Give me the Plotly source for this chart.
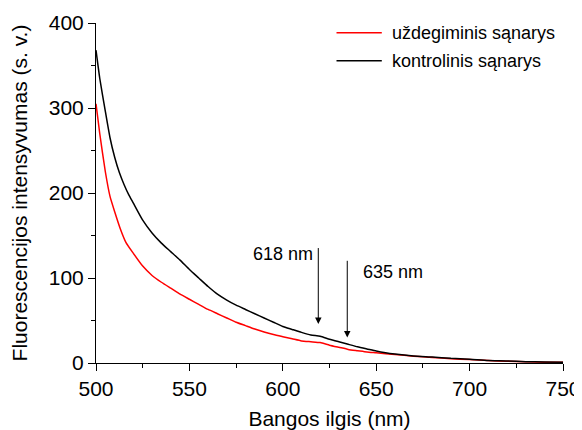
import plotly.graph_objects as go

# Wavelengths (nm) and intensities (a.u.)
nm_black = [500, 502, 505, 507.5, 510, 512.5, 515, 517.5, 520, 525, 530, 535, 540, 545, 550, 555, 560,
            565, 570, 575, 580, 585, 590, 595, 600, 605, 610, 615, 620, 625, 630, 635, 640,
            645, 650, 655, 660, 670, 680, 690, 700, 710, 720, 730, 740, 750]
control = [368, 335, 296, 265, 242, 224, 210, 198, 188, 168, 153, 141, 131, 121, 110, 100, 90,
           81, 74, 68, 63, 58, 53, 48, 43, 39.5, 36, 33, 31.5, 28, 25, 22, 19,
           16.5, 14, 12, 10.5, 8.3, 7, 5.5, 4.5, 3, 2.5, 1.5, 1.2, 1]

nm_red = [500, 502, 505, 507.5, 510, 513, 516, 520, 525, 530, 535, 540, 545, 550, 555, 560,
          565, 570, 575, 580, 585, 590, 595, 600, 605, 610, 615, 620, 625, 630, 635, 640,
          645, 650, 660, 670, 680, 690, 700, 710, 720, 730, 740, 750]
inflamed = [305, 270, 225, 196, 178, 158, 142, 129, 114, 103, 95, 88, 81, 75, 69, 63,
            58, 53, 48, 44, 40, 36.5, 33.5, 31, 28.5, 26, 25, 24, 21, 18.5, 16, 14.5,
            13, 12, 10, 8, 6.5, 5, 4, 3, 2, 1.5, 1, 0.8]

series_names = ["uždegiminis sąnarys", "kontrolinis sąnarys"]
series_colors = ["#ff0000", "#000000"]
x_ticks = [500, 550, 600, 650, 700, 750]
y_ticks = [0, 100, 200, 300, 400]

# Arrow annotations
arrow_nm = [619, 634.5]
arrow_tail = [137, 122]
arrow_head = [46, 30]
arrow_labels = ["618 nm", "635 nm"]
label_pos = [(617.5, 128, "right"), (642, 107, "left")]

font_family = "Liberation Sans, Arial, sans-serif"

fig = go.Figure()
fig.add_trace(go.Scatter(x=nm_red, y=inflamed, mode="lines", name=series_names[0],
                         line=dict(color=series_colors[0], width=1.5, shape="spline", smoothing=0.5),
                         showlegend=False))
fig.add_trace(go.Scatter(x=nm_black, y=control, mode="lines", name=series_names[1],
                         line=dict(color=series_colors[1], width=1.5, shape="spline", smoothing=0.5),
                         showlegend=False))

for i in range(2):
    fig.add_annotation(x=arrow_nm[i], y=arrow_head[i], ax=arrow_nm[i], ay=arrow_tail[i],
                       xref="x", yref="y", axref="x", ayref="y", text="",
                       showarrow=True, arrowhead=2, arrowsize=1.3, arrowwidth=1,
                       arrowcolor="black")
    lx, ly, anchor = label_pos[i]
    fig.add_annotation(x=lx, y=ly, xref="x", yref="y", text=arrow_labels[i],
                       showarrow=False, xanchor=anchor, yanchor="middle",
                       font=dict(size=18, color="black", family=font_family))

# Manual legend (paper coordinates)
legend_y = [0.971, 0.889]
for i in range(2):
    fig.add_shape(type="line", xref="paper", yref="paper", x0=0.515, x1=0.612,
                  y0=legend_y[i], y1=legend_y[i], line=dict(color=series_colors[i], width=1.5))
    fig.add_annotation(x=0.629, y=legend_y[i], xref="paper", yref="paper", text=series_names[i],
                       showarrow=False, xanchor="left", yanchor="middle",
                       font=dict(size=18, color="black", family=font_family))

axis_common = dict(showline=True, linecolor="black", linewidth=1, ticks="outside",
                   tickcolor="black", ticklen=7, tickwidth=1, showgrid=False,
                   zeroline=False, mirror=False, automargin=False,
                   ticklabeloverflow="allow",
                   tickfont=dict(size=21, color="black", family=font_family))

fig.update_xaxes(range=[500, 750], tickvals=x_ticks,
                 title=dict(text="Bangos ilgis (nm)", standoff=14,
                            font=dict(size=21, color="black", family=font_family)),
                 minor=dict(ticks="outside", dtick=25, ticklen=4, tickcolor="black", tickwidth=1),
                 **axis_common)
fig.update_yaxes(range=[0, 400], tickvals=y_ticks,
                 title=dict(text="Fluorescencijos intensyvumas (s. v.)", standoff=15,
                            font=dict(size=21, color="black", family=font_family)),
                 minor=dict(ticks="outside", dtick=50, ticklen=4, tickcolor="black", tickwidth=1),
                 **axis_common)

# The page body adds an 8px offset; size/margins compensate so the plot area sits at 96..563 x 23..363
fig.update_layout(width=574, height=422, margin=dict(l=88, r=19, t=15, b=67),
                  paper_bgcolor="white", plot_bgcolor="white", template="none",
                  font=dict(family=font_family, color="black"),
                  showlegend=False)

fig.write_html("out.html")
